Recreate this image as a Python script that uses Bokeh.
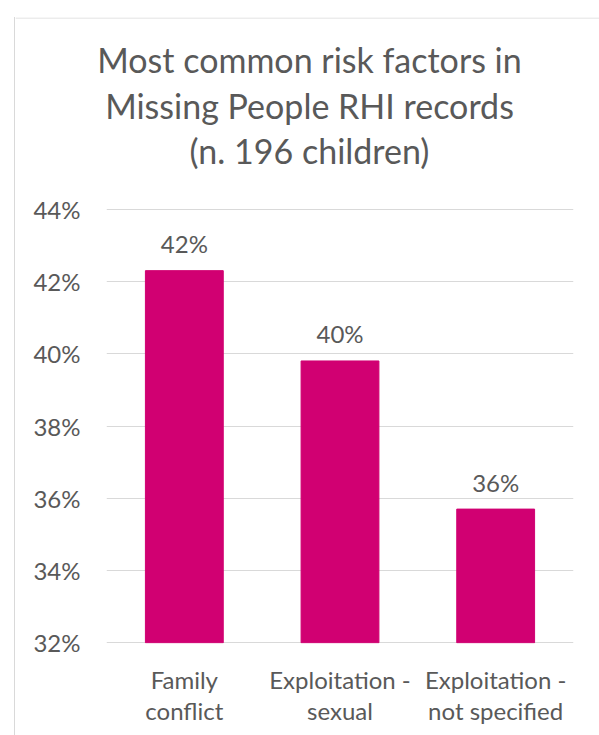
from bokeh.plotting import figure
from bokeh.layouts import column
from bokeh.models import FixedTicker, PrintfTickFormatter, ColumnDataSource, Range1d
from bokeh.core.properties import value
from bokeh.embed import file_html
from bokeh.resources import INLINE

# Data
categories = ["Family\nconflict", "Exploitation -\nsexual", "Exploitation -\nnot specified"]
percentages = [42.3, 39.8, 35.7]
y_ticks = [32, 34, 36, 38, 40, 42, 44]
title_lines = ["Most common risk factors in", "Missing People RHI records", "(n. 196 children)"]

FONT = "Lato"
TEXT = "#595959"
GRID = "#d9d9d9"
BAR = "#D10072"

# Chart box (1px light border on the top and left)
BOX_W, BOX_H = 584, 718
TITLE_H = 171
MAIN_H = BOX_H - TITLE_H

# ---- Title strip: frame covers the whole canvas, coordinates in pixels
head = figure(
    width=BOX_W, height=TITLE_H,
    x_range=Range1d(0, BOX_W), y_range=Range1d(TITLE_H, 0),
    output_backend="svg", toolbar_location=None,
    min_border=0, background_fill_color="white", border_fill_color="white",
)
head.frame_align = False
head.axis.visible = False
head.grid.visible = False
head.outline_line_color = None
head.line(x=[0, BOX_W], y=[0.5, 0.5], line_color=GRID, line_width=1)
head.text(x=[294, 294, 294], y=[42, 88, 133], text=title_lines,
          text_align="center", text_baseline="alphabetic",
          text_font=value(FONT), text_font_size="34px", text_color=TEXT)

# ---- Bar chart
source = ColumnDataSource(dict(
    cat=categories,
    pct=percentages,
    label=[f"{round(v)}%" for v in percentages],
))

p = figure(
    x_range=categories, y_range=(31.98, 44.02),
    width=BOX_W, height=MAIN_H,
    output_backend="svg", toolbar_location=None,
    min_border_left=91, min_border_right=26,
    min_border_top=20, min_border_bottom=92,
    background_fill_color="white", border_fill_color="white",
)
p.frame_align = False
p.outline_line_color = None

p.vbar(x="cat", top="pct", bottom=32, width=0.5, source=source,
       fill_color=BAR, line_color=BAR)

p.text(x="cat", y="pct", text="label", source=source,
       text_align="center", text_baseline="alphabetic", y_offset=-27,
       text_font=value(FONT), text_font_size="24px", text_color=TEXT)

p.yaxis.ticker = FixedTicker(ticks=y_ticks)
p.yaxis.formatter = PrintfTickFormatter(format="%d%%")
for ax in (p.xaxis, p.yaxis):
    ax.axis_line_color = None
    ax.major_tick_line_color = None
    ax.minor_tick_line_color = None
    ax.major_tick_out = 0
    ax.major_tick_in = 0
    ax.major_label_text_font = FONT
    ax.major_label_text_font_size = "24px"
    ax.major_label_text_color = TEXT
p.yaxis.major_label_standoff = 26
p.xaxis.major_label_standoff = 21
p.xaxis.major_label_text_line_height = 1.1

p.xgrid.grid_line_color = None
p.ygrid.grid_line_color = GRID
p.ygrid.grid_line_width = 1

layout = column(
    head, p, spacing=0, margin=(17, 0, 0, 14),
    styles={"border-left": f"1px solid {GRID}", "background-color": "white"},
)

open("out.html", "w").write(file_html(layout, INLINE))
